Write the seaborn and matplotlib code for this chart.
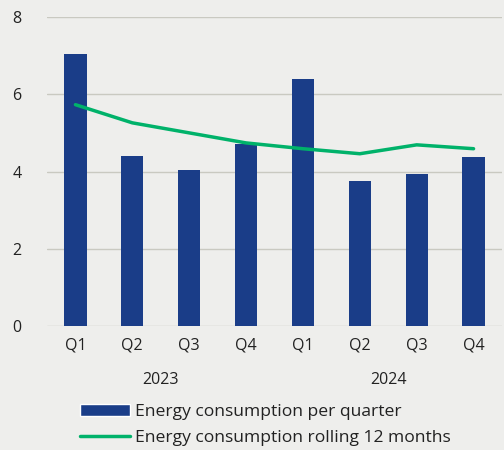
import numpy as np
import pandas as pd
import matplotlib.pyplot as plt
import seaborn as sns
from matplotlib.patches import Patch
from matplotlib.lines import Line2D

years = ['2023', '2024']
quarters = ['Q1', 'Q2', 'Q3', 'Q4']
per_quarter = [7.05, 4.40, 4.04, 4.72, 6.40, 3.76, 3.94, 4.38]
rolling_12m = [5.73, 5.26, 5.00, 4.74, 4.59, 4.46, 4.69, 4.59]

bar_color = '#1a3d88'
line_color = '#00b26a'
bg_color = '#eeeeec'
text_color = '#222222'
fs = 11.5

periods = [y + ' ' + q for y in years for q in quarters]
df = pd.DataFrame({'period': periods,
                   'quarter': quarters * len(years),
                   'per_quarter': per_quarter,
                   'rolling': rolling_12m})

sns.set_style('white')
plt.rcParams['font.family'] = ['Open Sans', 'DejaVu Sans']

fig = plt.figure(figsize=(5.04, 4.5), dpi=100, facecolor=bg_color)
ax = fig.add_axes([47 / 504, 1 - 326 / 450, 455 / 504, 309 / 450])
ax.set_facecolor(bg_color)

sns.barplot(data=df, x='period', y='per_quarter', ax=ax,
            color=bar_color, width=0.39, saturation=1, linewidth=0)
sns.lineplot(x=np.arange(len(df)), y=df['rolling'], ax=ax,
             color=line_color, linewidth=2.5)

ax.set_xlim(-0.5, len(df) - 0.5)
ax.set_ylim(0, 8)
ax.set_yticks([0, 2, 4, 6, 8])
ax.grid(axis='y', color='#c9c9c1', linewidth=1)
ax.set_axisbelow(True)
for s in ax.spines.values():
    s.set_visible(False)
ax.tick_params(length=0, labelsize=fs, colors=text_color)
ax.tick_params(axis='y', pad=25)
ax.set_xticks(np.arange(len(df)))
ax.set_xticklabels(df['quarter'])
ax.tick_params(axis='x', pad=8)
for lab in ax.get_yticklabels():
    lab.set_horizontalalignment('left')
ax.set_xlabel('')
ax.set_ylabel('')

# year labels under each group of quarters
for i, y in enumerate(years):
    center = i * len(quarters) + (len(quarters) - 1) / 2
    ax.text(center, -0.175, y, transform=ax.get_xaxis_transform(),
            ha='center', va='center', fontsize=fs, color=text_color)

handles = [Patch(facecolor=bar_color, label='Energy consumption per quarter'),
           Line2D([0], [0], color=line_color, linewidth=2.5,
                  label='Energy consumption rolling 12 months')]
fig.legend(handles=handles, loc='lower left', bbox_to_anchor=(64 / 504, -0.0265),
           frameon=False, fontsize=12.6, handlelength=2.85, handleheight=0.7,
           handletextpad=0.3, labelspacing=0.57, labelcolor=text_color)

fig.savefig('out.png', dpi=100, facecolor=bg_color)
